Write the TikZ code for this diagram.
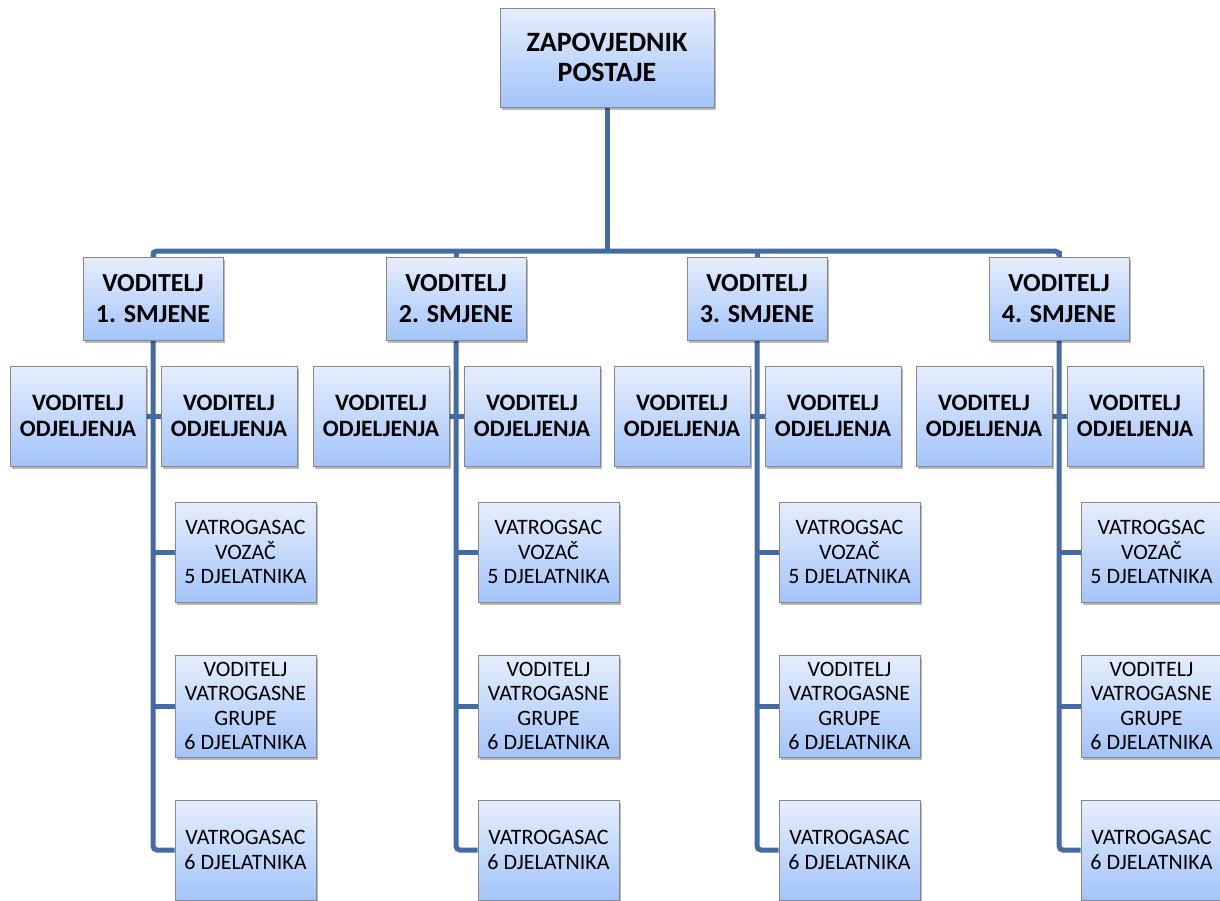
\documentclass[tikz,border=0pt]{standalone}
\usepackage{fontspec}
\setmainfont{Carlito}
\usetikzlibrary{shadows}
\pgfdeclarelayer{bg}
\pgfsetlayers{bg,main}
\definecolor{linec}{RGB}{68,108,162}
\definecolor{boxtop}{RGB}{230,238,252}
\definecolor{boxbot}{RGB}{163,196,250}
\definecolor{boxline}{RGB}{135,135,135}
\tikzset{
 box/.style={draw=boxline, line width=0.8pt, top color=boxtop, bottom color=boxbot, align=center, inner sep=0pt,
   drop shadow={shadow xshift=1.5pt, shadow yshift=-3pt, fill=black, opacity=0.28}},
 topbox/.style={box, minimum width=214pt, minimum height=99pt, font=\fontsize{28}{30}\selectfont\bfseries},
 shiftbox/.style={box, minimum width=140pt, minimum height=83pt, font=\fontsize{26}{31}\selectfont\bfseries},
 deptbox/.style={box, minimum width=136pt, minimum height=100pt, font=\fontsize{23.5}{26.5}\selectfont\bfseries},
 crewbox/.style={box, minimum width=141pt, font=\fontsize{22}{24.5}\selectfont},
 conn/.style={draw=linec, line width=5pt},
}
\begin{document}
\begin{tikzpicture}[x=1pt,y=-1pt]
\useasboundingbox (0,0) rectangle (1220,900);
\node[topbox] (top) at (607,57.5) {ZAPOVJEDNIK\\POSTAJE};
\coordinate (bus) at (607,251);
\foreach \i/\x/\w in {1/153/VATROGASAC,2/456/VATROGSAC,3/757/VATROGSAC,4/1059/VATROGSAC}{
  \node[shiftbox] (s\i) at (\x,298.5) {VODITELJ\\\i. SMJENE};
  \node[deptbox] (dl\i) at (\x-75,416) {VODITELJ\\ODJELJENJA};
  \node[deptbox] (dr\i) at (\x+76,416) {VODITELJ\\ODJELJENJA};
  \node[crewbox, minimum height=100pt] (ca\i) at (\x+92.5,552) {\w\\VOZAČ\\5 DJELATNIKA};
  \node[crewbox, minimum height=102pt] (cb\i) at (\x+92.5,706) {VODITELJ\\VATROGASNE\\GRUPE\\6 DJELATNIKA};
  \node[crewbox, minimum height=100pt] (cc\i) at (\x+92.5,850) {VATROGASAC\\6 DJELATNIKA};
  \begin{pgfonlayer}{bg}
    \draw[conn] (s\i.north) -- (s\i.north |- bus);
    \draw[conn, rounded corners=4pt] (s\i.south) -- (s\i.south |- cc\i.west) -- (cc\i.west);
    \draw[conn] (dl\i.east) -- (dr\i.west);
    \draw[conn] (s\i.south |- ca\i.west) -- (ca\i.west);
    \draw[conn] (s\i.south |- cb\i.west) -- (cb\i.west);
  \end{pgfonlayer}
}
\begin{pgfonlayer}{bg}
  \draw[conn] (top.south) -- (bus);
  \draw[conn, rounded corners=4pt] (s1.north) -- (s1.north |- bus) -- (s4.north |- bus) -- (s4.north);
\end{pgfonlayer}
\end{tikzpicture}
\end{document}
